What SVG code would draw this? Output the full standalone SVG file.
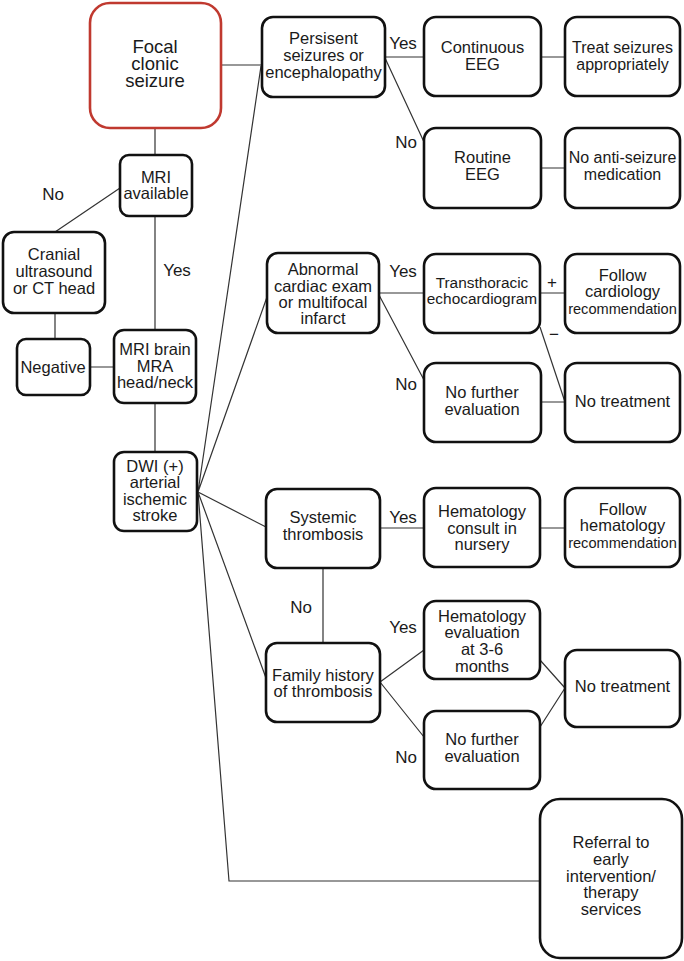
<svg xmlns="http://www.w3.org/2000/svg" width="684" height="961" viewBox="0 0 684 961">
<style>
.b{fill:#fff;stroke:#111;stroke-width:2.6}
.r{fill:#fff;stroke:#c0392f;stroke-width:2.6}
.c{fill:none;stroke:#333;stroke-width:1.2}
text{font-family:"Liberation Sans",Arial,sans-serif;font-size:16.5px;fill:#1a1a1a;text-anchor:middle}
.l{font-size:17px}
</style>
<rect width="684" height="961" fill="#fff"/>
<g id="connectors">
<path class="c" d="M155,128V155M155,217V330M155,403V452M120,188L55,232M55,313V339M90,367H114"/>
<path class="c" d="M221,65H262M198,492L261,66M198,492L267,297M198,492L266,527M198,492L266,678M198,492L229,881H540"/>
<path class="c" d="M385,57H424M541,57H565M385,58L424,142M541,168H565"/>
<path class="c" d="M379,293H424M540,293H565M540,327L565,402M379,295L424,380M541,402H565"/>
<path class="c" d="M380,528H424M540,528H565M323,568V643M380,682L424,650M380,682L424,737M540,660L565,688M540,727L565,688"/>
</g>
<g id="labels">
<text class="l" x="53" y="200">No</text>
<text class="l" x="177" y="276">Yes</text>
<text class="l" x="403" y="49">Yes</text>
<text class="l" x="406" y="148">No</text>
<text class="l" x="403" y="277">Yes</text>
<text class="l" x="406" y="390">No</text>
<text class="l" x="552" y="288">+</text>
<text class="l" x="554" y="340">−</text>
<text class="l" x="403" y="523">Yes</text>
<text class="l" x="301" y="613">No</text>
<text class="l" x="403" y="633">Yes</text>
<text class="l" x="406" y="763">No</text>
</g>
<g id="focal"><rect class="r" x="90" y="3" width="131" height="125" rx="20"/><text x="155" y="53" style="font-size:18.5px">Focal</text><text x="155" y="70" style="font-size:18.5px">clonic</text><text x="155" y="87" style="font-size:18.5px">seizure</text></g>
<g id="mri-available"><rect class="b" x="120" y="155" width="72" height="61" rx="9"/><text x="156" y="183">MRI</text><text x="156" y="199">available</text></g>
<g id="cranial"><rect class="b" x="3" y="232" width="102" height="81" rx="11"/><text x="54" y="260">Cranial</text><text x="54" y="277">ultrasound</text><text x="54" y="294">or CT head</text></g>
<g id="negative"><rect class="b" x="17" y="339" width="73" height="56" rx="9"/><text x="53" y="373">Negative</text></g>
<g id="mri-brain"><rect class="b" x="114" y="330" width="82" height="73" rx="10"/><text x="155" y="355">MRI brain</text><text x="155" y="372">MRA</text><text x="155" y="388">head/neck</text></g>
<g id="dwi"><rect class="b" x="114" y="452" width="83" height="79" rx="10"/><text x="155" y="472">DWI (+)</text><text x="155" y="488">arterial</text><text x="155" y="505">ischemic</text><text x="155" y="521">stroke</text></g>
<g id="persistent"><rect class="b" x="262" y="17" width="123" height="80" rx="11"/><text x="323.5" y="44">Persisent</text><text x="323.5" y="61">seizures or</text><text x="323.5" y="78">encephalopathy</text></g>
<g id="continuous-eeg"><rect class="b" x="424" y="17" width="117" height="79" rx="12"/><text x="482.5" y="53">Continuous</text><text x="482.5" y="70">EEG</text></g>
<g id="treat"><rect class="b" x="565" y="17" width="115" height="79" rx="12"/><text x="622.5" y="53" style="font-size:16px">Treat seizures</text><text x="622.5" y="70" style="font-size:16px">appropriately</text></g>
<g id="routine-eeg"><rect class="b" x="424" y="128" width="117" height="80" rx="12"/><text x="482.5" y="163">Routine</text><text x="482.5" y="180">EEG</text></g>
<g id="no-asm"><rect class="b" x="565" y="128" width="115" height="80" rx="12"/><text x="622.5" y="163" style="font-size:16px">No anti-seizure</text><text x="622.5" y="180" style="font-size:16px">medication</text></g>
<g id="cardiac"><rect class="b" x="267" y="253" width="112" height="80" rx="11"/><text x="323" y="275">Abnormal</text><text x="323" y="292">cardiac exam</text><text x="323" y="308">or multifocal</text><text x="323" y="324">infarct</text></g>
<g id="tte"><rect class="b" x="424" y="254" width="116" height="79" rx="12"/><text x="482" y="288" style="font-size:15.4px">Transthoracic</text><text x="482" y="304" style="font-size:15.4px">echocardiogram</text></g>
<g id="follow-cardiology"><rect class="b" x="565" y="254" width="115" height="79" rx="12"/><text x="622.5" y="281">Follow</text><text x="622.5" y="297">cardiology</text><text x="622.5" y="314" style="font-size:14.6px">recommendation</text></g>
<g id="no-further-1"><rect class="b" x="424" y="363" width="117" height="79" rx="12"/><text x="482" y="398">No further</text><text x="482" y="415">evaluation</text></g>
<g id="no-treatment-1"><rect class="b" x="565" y="363" width="115" height="79" rx="12"/><text x="622.5" y="407">No treatment</text></g>
<g id="systemic"><rect class="b" x="266" y="489" width="114" height="79" rx="11"/><text x="323" y="523">Systemic</text><text x="323" y="540">thrombosis</text></g>
<g id="heme-consult"><rect class="b" x="424" y="488" width="116" height="79" rx="12"/><text x="482" y="517">Hematology</text><text x="482" y="534">consult in</text><text x="482" y="550">nursery</text></g>
<g id="follow-heme"><rect class="b" x="565" y="488" width="115" height="79" rx="12"/><text x="622.5" y="515">Follow</text><text x="622.5" y="531">hematology</text><text x="622.5" y="548" style="font-size:14.6px">recommendation</text></g>
<g id="family"><rect class="b" x="266" y="643" width="114" height="79" rx="11"/><text x="323" y="681">Family history</text><text x="323" y="697">of thrombosis</text></g>
<g id="heme-eval"><rect class="b" x="424" y="601" width="116" height="78" rx="12"/><text x="482" y="622">Hematology</text><text x="482" y="638">evaluation</text><text x="482" y="655">at 3-6</text><text x="482" y="672">months</text></g>
<g id="no-further-2"><rect class="b" x="424" y="711" width="116" height="78" rx="12"/><text x="482" y="745">No further</text><text x="482" y="762">evaluation</text></g>
<g id="no-treatment-2"><rect class="b" x="565" y="650" width="115" height="77" rx="12"/><text x="622.5" y="692">No treatment</text></g>
<g id="referral"><rect class="b" x="540" y="799" width="142" height="159" rx="20"/><text x="611" y="848">Referral to</text><text x="611" y="865">early</text><text x="611" y="882">intervention/</text><text x="611" y="898">therapy</text><text x="611" y="915">services</text></g>
</svg>
